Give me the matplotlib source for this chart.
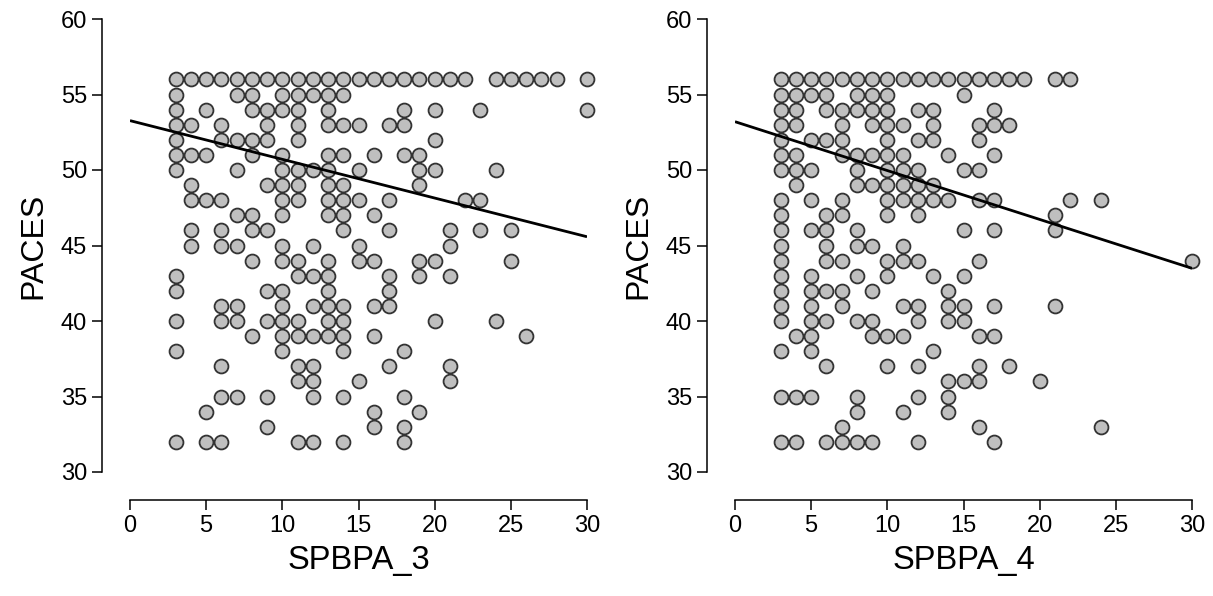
import matplotlib
matplotlib.use("Agg")
import matplotlib.pyplot as plt
import numpy as np

plt.rcParams['font.family'] = ['Liberation Sans', 'DejaVu Sans']

# ---------------- data ----------------
paces_levels = [56, 55, 54, 53, 52, 51, 50, 49, 48, 47, 46, 45, 44,
                43, 42, 41, 40, 39, 38, 37, 36, 35, 34, 33, 32]

spbpa3_by_level = [
    [3, 4, 5, 6, 7, 8, 9, 10, 11, 12, 13, 14, 15, 16, 17, 18, 19, 20, 21, 22, 24, 25, 26, 27, 28, 30],
    [3, 7, 8, 10, 11, 12, 13, 14],
    [3, 5, 8, 9, 10, 11, 13, 18, 20, 23, 30],
    [3, 4, 6, 9, 11, 13, 14, 15, 17, 18],
    [3, 6, 7, 8, 9, 11, 20],
    [3, 4, 5, 8, 10, 13, 14, 16, 18, 19],
    [3, 7, 10, 11, 12, 13, 15, 19, 20, 24],
    [4, 9, 10, 11, 13, 14, 19],
    [4, 5, 6, 10, 11, 13, 14, 15, 17, 22, 23],
    [7, 8, 10, 13, 14, 16],
    [4, 6, 8, 9, 14, 17, 21, 23, 25],
    [4, 6, 7, 10, 12, 15, 21],
    [8, 10, 11, 13, 15, 16, 19, 20, 25],
    [3, 11, 12, 13, 17, 19, 21],
    [3, 9, 10, 13, 17],
    [6, 7, 10, 12, 13, 14, 16, 17],
    [3, 6, 7, 9, 10, 11, 13, 14, 20, 24],
    [8, 10, 11, 12, 13, 14, 16, 26],
    [3, 10, 14, 18],
    [6, 11, 12, 17, 21],
    [11, 12, 15, 21],
    [6, 7, 9, 12, 14, 18],
    [5, 16, 19],
    [9, 16, 18],
    [3, 5, 6, 11, 12, 14, 18],
]

spbpa4_by_level = [
    [3, 4, 5, 6, 7, 8, 9, 10, 11, 12, 13, 14, 15, 16, 17, 18, 19, 21, 22],
    [3, 4, 5, 6, 8, 9, 10, 15],
    [3, 4, 6, 7, 8, 9, 10, 12, 13, 17],
    [3, 4, 7, 9, 10, 11, 13, 16, 17, 18],
    [3, 5, 6, 7, 10, 12, 13, 16],
    [3, 4, 7, 8, 9, 10, 11, 14, 17],
    [3, 4, 5, 8, 10, 11, 12, 15, 16],
    [4, 8, 9, 10, 11, 12, 13],
    [3, 5, 7, 10, 11, 12, 13, 14, 16, 17, 22, 24],
    [3, 6, 7, 10, 12, 21],
    [3, 5, 6, 8, 15, 17, 21],
    [3, 6, 8, 9, 11],
    [3, 6, 7, 10, 11, 12, 16, 30],
    [3, 5, 8, 10, 13, 15],
    [3, 5, 6, 7, 9, 14],
    [3, 5, 7, 11, 12, 14, 15, 17, 21],
    [3, 5, 6, 8, 9, 12, 14, 15],
    [4, 5, 9, 10, 11, 16, 17],
    [3, 5, 13],
    [6, 10, 12, 16, 18],
    [14, 15, 16, 20],
    [3, 4, 5, 8, 12, 14],
    [8, 11, 14],
    [7, 16, 24],
    [3, 4, 6, 7, 8, 9, 12, 17],
]

# regression lines as drawn (value at x=0 and at x=30)
line3_ends = [53.27, 45.58]
line4_ends = [53.20, 43.49]

x_ticks = [0, 5, 10, 15, 20, 25, 30]
y_ticks = [30, 35, 40, 45, 50, 55, 60]
x_names = ["SPBPA_3", "SPBPA_4"]
y_name = "PACES"

# ---------------- figure ----------------
W, H = 1213, 596
fig = plt.figure(figsize=(W / 100, H / 100), dpi=100)

def px_axes(x0, x1, ytop, ybot):
    return [x0 / W, (H - ybot) / H, (x1 - x0) / W, (ybot - ytop) / H]

panels = [
    (px_axes(130, 587, 19, 472), spbpa3_by_level, line3_ends, x_names[0]),
    (px_axes(735, 1192, 19, 472), spbpa4_by_level, line4_ends, x_names[1]),
]

for rect, by_level, ends, xname in panels:
    ax = fig.add_axes(rect)
    xs, ys = [], []
    for lev, row in zip(paces_levels, by_level):
        xs.extend(row)
        ys.extend([lev] * len(row))
    ax.scatter(xs, ys, s=100, facecolor='#bfbfbf', edgecolor='#333333',
               linewidth=1.3, zorder=3, clip_on=False)
    ax.plot([0, 30], ends, color='black', linewidth=2.0, zorder=4,
            solid_capstyle='butt')
    ax.set_xlim(0, 30)
    ax.set_ylim(30, 60)
    ax.set_xticks(x_ticks)
    ax.set_yticks(y_ticks)
    for side in ['top', 'right']:
        ax.spines[side].set_visible(False)
    ax.spines['left'].set_position(('outward', 20))
    ax.spines['bottom'].set_position(('outward', 20))
    ax.spines['left'].set_linewidth(1.1)
    ax.spines['bottom'].set_linewidth(1.1)
    ax.tick_params(direction='out', length=7, width=1.1, labelsize=17,
                   pad=4, colors='black')
    ax.set_xlabel(xname, fontsize=23.5)
    ax.set_ylabel(y_name, fontsize=23)
    ax.xaxis.set_label_coords(0.5, -0.195)
    ax.yaxis.set_label_coords(-0.212, 0.5)
    ax.xaxis.label.set_va('center')
    ax.yaxis.label.set_va('center')
    ax.patch.set_visible(False)

fig.savefig("out.png", dpi=100)
